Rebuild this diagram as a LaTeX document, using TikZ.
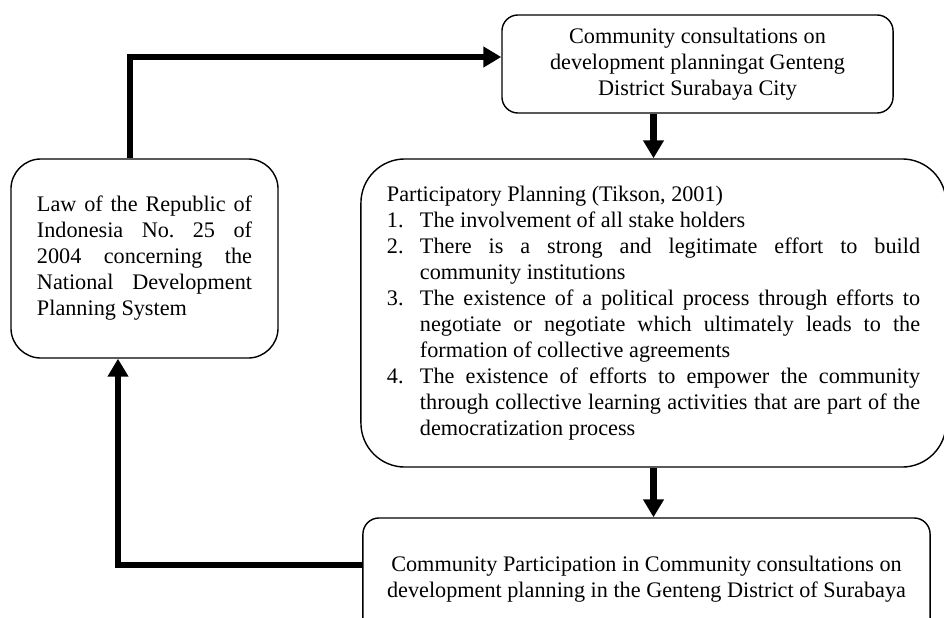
\documentclass[tikz,border=0pt]{standalone}
\usepackage{fontspec}
\setmainfont{Liberation Serif}
\usepackage{enumitem}
\usetikzlibrary{arrows.meta}
\hyphenpenalty=10000
\exhyphenpenalty=10000
\hbadness=10000
\tikzstyle{box} = [draw=black, line width=1pt, inner sep=0pt, font=\fontsize{15.8}{18.5}\selectfont\frenchspacing]
\tikzstyle{flow} = [line width=4.6pt, -{Triangle[length=.45cm,width=.5cm]}]

\begin{document}
\begin{tikzpicture}[x=.025cm, y=-.025cm]
			\useasboundingbox (0,0) rectangle (944,617);
			\clip (0,0) rectangle (944,617);
			% boxes
			\node [box, rounded corners=.4cm, minimum width=9.775cm, minimum height=2.45cm, align=center] (cons) at (697.5,64)
				{Community consultations on\\development planningat Genteng\\District Surabaya City};
			\node [box, rounded corners=.75cm, minimum width=6.675cm, minimum height=4.975cm, text width=5.375cm, align=justify] (law) at (144.5,258.5)
				{Law of the Republic of\linebreak Indonesia No. 25 of\linebreak 2004 concerning the\linebreak National Development\linebreak Planning System};
			\node [box, rounded corners=1.1cm, minimum width=14.625cm, minimum height=7.7cm, text width=13.325cm, align=justify] (plan) at (653.5,313)
				{Participatory Planning (Tikson, 2001)
				\begin{enumerate}[label=\arabic*., leftmargin=23.5pt, labelwidth=23.5pt, labelsep=0pt, align=left, topsep=0pt, partopsep=0pt, itemsep=0pt, parsep=0pt]
					\item The involvement of all stake holders
					\item There is a strong and legitimate effort to build\linebreak community institutions
					\item The existence of a political process through efforts to\linebreak negotiate or negotiate which ultimately leads to the\linebreak formation of collective agreements
					\item The existence of efforts to empower the community\linebreak through collective learning activities that are part of the\linebreak democratization process
				\end{enumerate}};
			\node [box, rounded corners=.4cm, minimum width=14.175cm, minimum height=3.05cm, align=center] (part) at (646.5,579)
				{Community Participation in Community consultations on\\development planning in the Genteng District of Surabaya};
			% arrows
			\draw [flow] ([xshift=-.3625cm]law.north) |- ([yshift=.175cm]cons.west);
			\draw [flow] (cons.south -| plan.north) -- (plan.north);
			\draw [flow] (plan.south) -- (plan.south |- part.north);
			\draw [flow] ([yshift=.35cm]part.west) -| ([xshift=-.6625cm]law.south);
		\end{tikzpicture}
\end{document}
